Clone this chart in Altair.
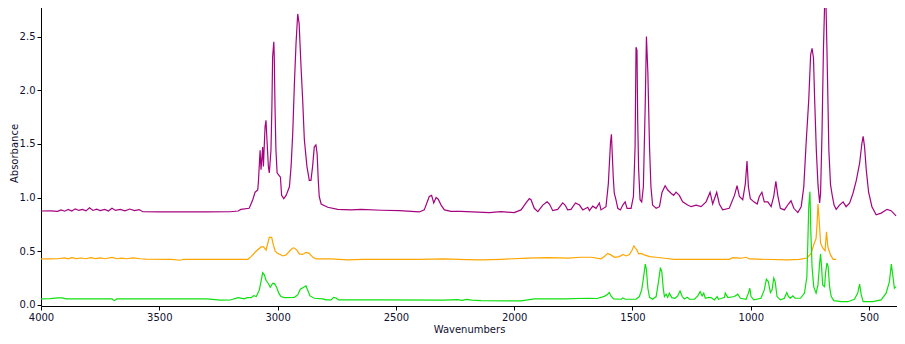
import altair as alt
import pandas as pd

# ---- data ----
purple_wn = [4000, 3960, 3930, 3915, 3900, 3885, 3870, 3855, 3840, 3825, 3810, 3795, 3780, 3765, 3750, 3730,
             3715, 3700, 3685, 3665, 3645, 3625, 3605, 3585, 3570, 3500, 3400, 3300, 3200, 3167, 3155, 3120,
             3105, 3095, 3084, 3081, 3074, 3070, 3063, 3060, 3053, 3049, 3045, 3039, 3035, 3028, 3024, 3021,
             3016, 3014, 3011, 3007, 3002, 2995, 2988, 2983, 2974, 2964, 2950, 2943, 2936, 2929, 2922, 2915,
             2909, 2901, 2894, 2887, 2876, 2866, 2859, 2852, 2845, 2838, 2833, 2828, 2824, 2816, 2788, 2746,
             2690, 2647, 2560, 2485, 2401, 2380, 2359, 2349, 2340, 2330, 2321, 2309, 2295, 2267, 2225, 2105,
             2056, 2000, 1971, 1950, 1936, 1929, 1915, 1900, 1879, 1861, 1851, 1837, 1816, 1795, 1785, 1774,
             1760, 1741, 1724, 1710, 1689, 1682, 1668, 1654, 1640, 1633, 1612, 1602, 1593, 1589, 1585, 1581,
             1577, 1570, 1562, 1551, 1541, 1531, 1523, 1506, 1496, 1489, 1485, 1481, 1478, 1474, 1468, 1461,
             1454, 1446, 1441, 1435, 1428, 1422, 1415, 1400, 1386, 1375, 1362, 1351, 1337, 1326, 1316, 1302,
             1288, 1267, 1252, 1231, 1210, 1189, 1172, 1161, 1144, 1133, 1119, 1091, 1069, 1058, 1048, 1034,
             1023, 1016, 1010, 1002, 987, 973, 964, 953, 943, 928, 914, 903, 894, 886, 875, 858,
             841, 830, 818, 801, 787, 776, 766, 755, 747, 741, 735, 730, 723, 716, 709, 705,
             699, 693, 688, 682, 678, 674, 670, 663, 655, 648, 639, 625, 610, 597, 582, 568,
             554, 540, 530, 525, 519, 512, 502, 488, 470, 449, 424, 407, 386]
purple_abs = [0.875, 0.876, 0.872, 0.885, 0.873, 0.89, 0.875, 0.895, 0.88, 0.89, 0.876, 0.905, 0.88, 0.892, 0.878, 0.89,
              0.875, 0.9, 0.88, 0.89, 0.877, 0.893, 0.878, 0.888, 0.868, 0.866, 0.866, 0.866, 0.868, 0.875, 0.89, 0.90,
              0.98, 1.05, 1.07, 1.15, 1.44, 1.26, 1.47, 1.29, 1.66, 1.72, 1.54, 1.29, 1.23, 1.44, 1.85, 2.31,
              2.45, 2.31, 1.85, 1.44, 1.23, 1.21, 1.19, 1.02, 0.99, 1.02, 1.10, 1.29, 1.60, 2.06, 2.44, 2.71,
              2.62, 2.22, 1.91, 1.54, 1.29, 1.16, 1.16, 1.29, 1.47, 1.49, 1.41, 1.16, 1.01, 0.94, 0.91, 0.89,
              0.885, 0.89, 0.882, 0.878, 0.866, 0.885, 1.01, 1.02, 0.95, 1.00, 0.985, 0.93, 0.885, 0.872, 0.872, 0.86,
              0.869, 0.86, 0.885, 0.95, 0.99, 0.98, 0.90, 0.869, 0.93, 0.96, 0.94, 0.878, 0.89, 0.95, 0.93, 0.885,
              0.89, 0.95, 0.93, 0.885, 0.91, 0.878, 0.92, 0.90, 0.95, 0.885, 0.915, 1.13, 1.51, 1.59, 1.38, 1.18,
              1.04, 0.98, 0.90, 0.885, 0.93, 0.96, 0.90, 0.90, 1.01, 1.47, 2.40, 2.37, 1.72, 1.26, 0.98, 0.96,
              1.10, 1.88, 2.50, 2.16, 1.47, 1.10, 0.93, 0.90, 0.915, 1.05, 1.11, 1.07, 1.04, 1.02, 1.05, 1.02,
              0.96, 0.93, 0.915, 0.93, 0.915, 0.96, 1.05, 0.94, 1.05, 0.94, 0.885, 0.90, 1.02, 1.11, 1.01, 0.98,
              1.13, 1.34, 1.10, 0.99, 0.96, 0.94, 1.01, 1.05, 0.96, 0.96, 0.915, 1.01, 1.15, 1.02, 0.90, 0.885,
              0.94, 0.97, 0.90, 0.86, 0.915, 1.10, 1.51, 1.91, 2.33, 2.39, 2.30, 1.91, 1.44, 1.12, 0.95, 1.04,
              1.60, 2.37, 2.79, 2.78, 2.37, 1.91, 1.44, 1.12, 1.01, 0.93, 0.89, 0.93, 0.96, 0.915, 0.95, 1.04,
              1.16, 1.32, 1.51, 1.57, 1.47, 1.26, 1.05, 0.915, 0.84, 0.855, 0.89, 0.878, 0.83]

orange_wn = [4000, 3960, 3930, 3900, 3885, 3870, 3850, 3830, 3810, 3790, 3770, 3750, 3730, 3700, 3680, 3660,
             3640, 3610, 3580, 3556, 3450, 3410, 3400, 3300, 3197, 3126, 3112, 3091, 3070, 3059, 3049, 3042,
             3035, 3025, 3018, 3010, 3000, 2988, 2978, 2964, 2950, 2936, 2929, 2919, 2908, 2894, 2880, 2866,
             2852, 2838, 2774, 2704, 2640, 2563, 2400, 2300, 2200, 2140, 2056, 1943, 1858, 1774, 1717, 1675,
             1633, 1619, 1605, 1591, 1577, 1555, 1541, 1527, 1513, 1503, 1494, 1488, 1481, 1474, 1464, 1450,
             1428, 1400, 1365, 1323, 1154, 1091, 1077, 1048, 1041, 1020, 1006, 844, 795, 762, 745, 734,
             724, 720, 716, 711, 705, 696, 686, 680, 674, 663, 652, 639]
orange_abs = [0.428, 0.428, 0.43, 0.438, 0.43, 0.44, 0.432, 0.437, 0.43, 0.44, 0.432, 0.438, 0.43, 0.442, 0.43, 0.436,
              0.43, 0.438, 0.43, 0.426, 0.425, 0.416, 0.425, 0.425, 0.425, 0.425, 0.45, 0.50, 0.54, 0.54, 0.51, 0.57,
              0.63, 0.63, 0.56, 0.50, 0.48, 0.47, 0.456, 0.466, 0.50, 0.53, 0.53, 0.51, 0.475, 0.47, 0.49, 0.48,
              0.445, 0.428, 0.428, 0.42, 0.425, 0.425, 0.425, 0.428, 0.422, 0.42, 0.425, 0.435, 0.44, 0.435, 0.444, 0.444,
              0.43, 0.45, 0.48, 0.466, 0.444, 0.45, 0.47, 0.456, 0.47, 0.505, 0.55, 0.53, 0.51, 0.475, 0.48, 0.466,
              0.45, 0.444, 0.435, 0.425, 0.425, 0.425, 0.44, 0.435, 0.435, 0.444, 0.428, 0.42, 0.425, 0.437, 0.48, 0.56,
              0.62, 0.75, 0.94, 0.79, 0.575, 0.53, 0.505, 0.68, 0.54, 0.466, 0.425, 0.425]

green_wn = [4000, 3960, 3930, 3910, 3895, 3700, 3690, 3680, 3300, 3240, 3200, 3167, 3141, 3129, 3112, 3101,
            3090, 3077, 3070, 3063, 3056, 3049, 3039, 3031, 3021, 3014, 3004, 2995, 2986, 2972, 2929, 2915,
            2904, 2890, 2880, 2873, 2863, 2845, 2809, 2795, 2774, 2763, 2753, 2743, 2690, 2563, 2300, 2240,
            2220, 2200, 2180, 2140, 1971, 1915, 1788, 1689, 1650, 1626, 1619, 1605, 1598, 1591, 1580, 1548,
            1541, 1531, 1485, 1471, 1461, 1453, 1446, 1441, 1435, 1428, 1415, 1400, 1390, 1382, 1376, 1370,
            1365, 1358, 1351, 1344, 1334, 1320, 1309, 1299, 1290, 1281, 1269, 1259, 1238, 1224, 1214, 1206,
            1199, 1192, 1179, 1168, 1154, 1142, 1137, 1125, 1111, 1108, 1097, 1069, 1055, 1044, 1020, 1010,
            1004, 999, 987, 957, 943, 934, 926, 917, 910, 903, 897, 889, 875, 858, 848, 841,
            833, 822, 813, 790, 773, 763, 759, 755, 750, 746, 741, 734, 724, 716, 709, 705,
            701, 696, 688, 684, 678, 673, 667, 660, 649, 618, 590, 562, 548, 540, 533, 525,
            484, 449, 428, 414, 406, 400, 393, 386]
green_abs = [0.056, 0.058, 0.065, 0.065, 0.056, 0.056, 0.04, 0.056, 0.056, 0.044, 0.046, 0.068, 0.056, 0.068, 0.068, 0.087,
             0.078, 0.14, 0.22, 0.30, 0.28, 0.23, 0.20, 0.165, 0.20, 0.20, 0.165, 0.11, 0.078, 0.068, 0.071, 0.093,
             0.146, 0.165, 0.177, 0.14, 0.084, 0.062, 0.056, 0.047, 0.047, 0.071, 0.065, 0.047, 0.047, 0.047, 0.045, 0.05,
             0.043, 0.052, 0.044, 0.04, 0.037, 0.056, 0.056, 0.062, 0.06, 0.075, 0.08, 0.10, 0.115, 0.084, 0.056, 0.053,
             0.065, 0.053, 0.053, 0.078, 0.14, 0.26, 0.38, 0.326, 0.155, 0.071, 0.053, 0.078, 0.217, 0.347, 0.31, 0.155,
             0.078, 0.10, 0.071, 0.11, 0.068, 0.062, 0.084, 0.13, 0.078, 0.056, 0.071, 0.053, 0.053, 0.084, 0.124, 0.084,
             0.11, 0.062, 0.071, 0.068, 0.047, 0.078, 0.053, 0.06, 0.07, 0.11, 0.068, 0.078, 0.10, 0.062, 0.053, 0.11,
             0.155, 0.078, 0.047, 0.062, 0.14, 0.24, 0.217, 0.115, 0.14, 0.25, 0.217, 0.078, 0.047, 0.062, 0.115, 0.078,
             0.062, 0.084, 0.062, 0.062, 0.11, 0.26, 0.575, 0.915, 1.055, 0.67, 0.357, 0.17, 0.11, 0.186, 0.39, 0.475,
             0.357, 0.186, 0.17, 0.295, 0.39, 0.357, 0.17, 0.078, 0.04, 0.03, 0.03, 0.053, 0.11, 0.193, 0.093, 0.03,
             0.03, 0.047, 0.11, 0.217, 0.38, 0.28, 0.155, 0.17]

series_names = ["Spectrum A", "Spectrum B", "Spectrum C"]
series_colors = ["#a4047f", "#ffa500", "#0ee00e"]
x_ticks = [4000, 3500, 3000, 2500, 2000, 1500, 1000, 500]
y_ticks = [0.0, 0.5, 1.0, 1.5, 2.0, 2.5]

frames = []
for name, wn, ab in zip(series_names,
                        [purple_wn, orange_wn, green_wn],
                        [purple_abs, orange_abs, green_abs]):
    frames.append(pd.DataFrame({"wn": wn, "abs": ab, "series": name}))
df = pd.concat(frames, ignore_index=True)

text_color = "#101030"

chart = (
    alt.Chart(df)
    .mark_line(strokeWidth=1.2, interpolate="linear")
    .encode(
        x=alt.X("wn:Q",
                scale=alt.Scale(domain=[382, 4000], reverse=True, nice=False, zero=False),
                axis=alt.Axis(title="Wavenumbers", values=x_ticks, format="d", labelFlush=False,
                              tickSize=4, labelPadding=2, titlePadding=2)),
        y=alt.Y("abs:Q",
                scale=alt.Scale(domain=[-0.01, 2.84], nice=False, zero=False),
                axis=alt.Axis(title="Absorbance", values=y_ticks, format=".1f",
                              tickSize=4, labelPadding=2, titleX=-22)),
        color=alt.Color("series:N",
                        scale=alt.Scale(domain=series_names, range=series_colors),
                        legend=None),
        detail="series:N",
    )
    .properties(
        width=856,
        height=306,
        autosize=alt.AutoSizeParams(type="none"),
        padding={"left": 33, "top": -8, "right": 0, "bottom": 30},
    )
    .configure_view(stroke=None)
    .configure_axis(
        grid=False,
        domainColor="#000000",
        tickColor="#000000",
        labelColor=text_color,
        titleColor=text_color,
        labelFont="DejaVu Sans",
        titleFont="DejaVu Sans",
        labelFontSize=10,
        titleFontSize=10,
        titleFontWeight="normal",
    )
)

chart.save("out.html", embed_options={"renderer": "svg", "actions": False})
